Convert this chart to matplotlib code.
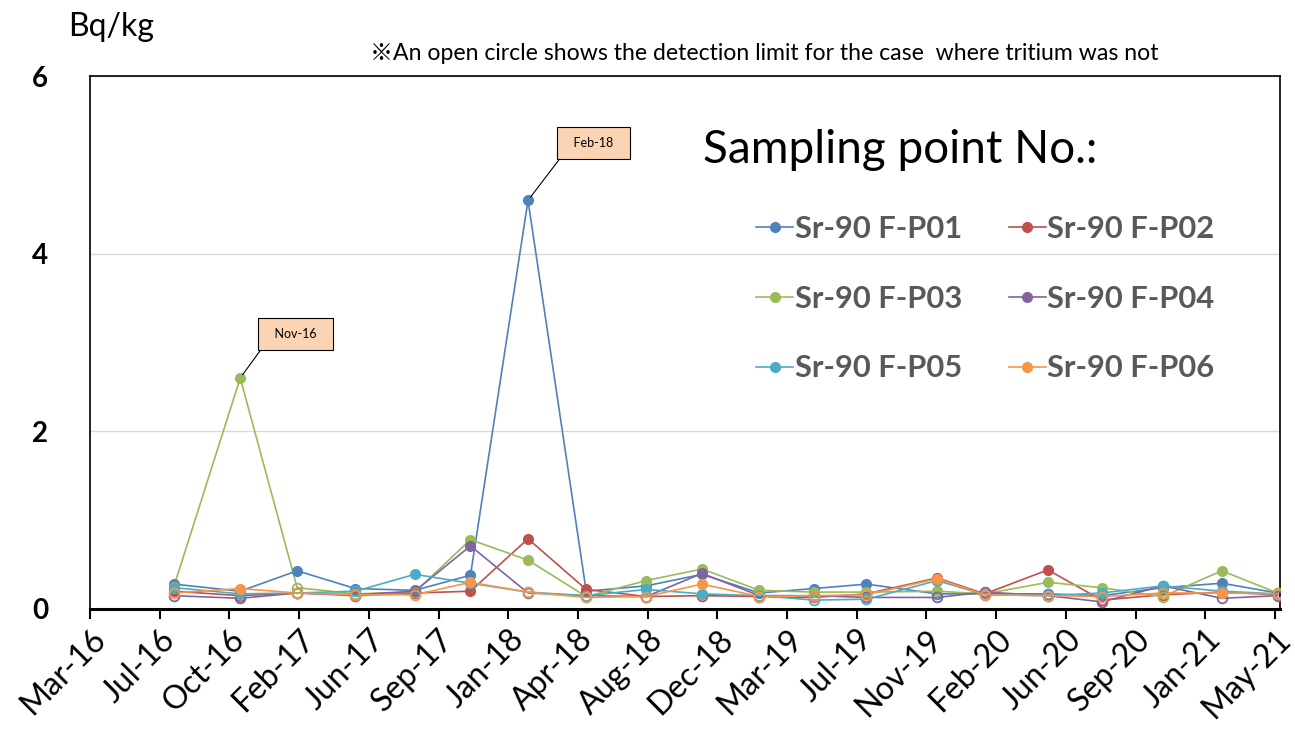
import datetime as dt

import matplotlib
matplotlib.use("Agg")
import matplotlib.dates as mdates
import matplotlib.pyplot as plt
import numpy as np
from matplotlib.lines import Line2D

plt.rcParams["font.family"] = ["Lato", "DejaVu Sans"]

sample_dates = [
    "2016-07-30", "2016-11-12", "2017-02-10", "2017-05-13", "2017-08-15",
    "2017-11-11", "2018-02-10", "2018-05-13", "2018-08-16", "2018-11-12",
    "2019-02-11", "2019-05-08", "2019-07-30", "2019-11-19", "2020-02-02",
    "2020-05-12", "2020-08-05", "2020-11-10", "2021-02-11", "2021-05-10",
]

# Sr-90 concentration [Bq/kg]; det = 0 means the value is the detection limit
p01 = [0.28, 0.20, 0.43, 0.23, 0.21, 0.38, 4.60, 0.20, 0.26, 0.39,
       0.18, 0.23, 0.28, 0.17, 0.17, 0.17, 0.15, 0.24, 0.29, 0.18]
p01_det = [1, 1, 1, 1, 1, 1, 1, 1, 1, 1, 1, 1, 1, 0, 0, 0, 0, 1, 1, 0]
p02 = [0.20, 0.15, 0.18, 0.15, 0.18, 0.20, 0.79, 0.22, 0.14, 0.15,
       0.14, 0.13, 0.17, 0.35, 0.17, 0.44, 0.10, 0.16, 0.19, 0.16]
p02_det = [1, 0, 0, 0, 0, 1, 1, 1, 0, 0, 0, 0, 0, 1, 0, 1, 0, 0, 1, 0]
p03 = [0.25, 2.60, 0.24, 0.17, 0.19, 0.78, 0.55, 0.14, 0.32, 0.45,
       0.21, 0.19, 0.19, 0.20, 0.17, 0.30, 0.24, 0.14, 0.43, 0.18]
p03_det = [1, 1, 0, 0, 0, 1, 1, 0, 1, 1, 1, 1, 1, 1, 0, 1, 1, 0, 1, 0]
p04 = [0.15, 0.12, 0.18, 0.16, 0.20, 0.71, 0.18, 0.15, 0.14, 0.40,
       0.15, 0.15, 0.13, 0.13, 0.19, 0.15, 0.08, 0.26, 0.12, 0.15]
p04_det = [0, 0, 0, 0, 0, 1, 0, 0, 0, 1, 0, 0, 0, 0, 0, 0, 0, 0, 0, 0]
p05 = [0.24, 0.17, 0.18, 0.20, 0.39, 0.29, 0.19, 0.15, 0.22, 0.17,
       0.15, 0.10, 0.11, 0.32, 0.16, 0.15, 0.18, 0.26, 0.20, 0.17]
p05_det = [1, 1, 0, 0, 1, 1, 0, 0, 1, 1, 0, 0, 0, 1, 0, 0, 1, 1, 1, 0]
p06 = [0.18, 0.23, 0.18, 0.16, 0.16, 0.30, 0.19, 0.13, 0.14, 0.28,
       0.14, 0.15, 0.16, 0.34, 0.16, 0.15, 0.14, 0.18, 0.18, 0.17]
p06_det = [0, 1, 0, 0, 0, 1, 0, 0, 0, 1, 0, 0, 0, 1, 0, 0, 0, 0, 1, 0]

labels = ["Sr-90 F-P01", "Sr-90 F-P02", "Sr-90 F-P03",
          "Sr-90 F-P04", "Sr-90 F-P05", "Sr-90 F-P06"]
colors = ["#4F81BD", "#C0504D", "#9BBB59", "#8064A2", "#4BACC6", "#F79646"]
series = [(p01, p01_det), (p02, p02_det), (p03, p03_det),
          (p04, p04_det), (p05, p05_det), (p06, p06_det)]

x = mdates.date2num([dt.datetime.fromisoformat(d) for d in sample_dates])

fig = plt.figure(figsize=(12.95, 7.33), dpi=100)
ax = fig.add_axes([0.0695, 0.1692, 0.9189, 0.7271])

for (vals, det), color in zip(series, colors):
    vals = np.array(vals)
    det = np.array(det, dtype=bool)
    ax.plot(x, vals, color=color, lw=1.2, zorder=2)
    ax.plot(x[det], vals[det], "o", color=color, ms=7, zorder=3)
    ax.plot(x[~det], vals[~det], "o", mfc="none", mec=color, mew=1.3,
            ms=7, zorder=3)

# axis in days, major unit 110.2 days
x0 = mdates.date2num(dt.datetime(2016, 3, 19, 12))
ticks = x0 + np.arange(18) * 110.2
ax.set_xlim(x0, x0 + 1881.4)
ax.set_xticks(ticks)
ax.set_xticklabels([mdates.num2date(t).strftime("%b-%y") for t in ticks],
                   rotation=45, ha="right", rotation_mode="anchor",
                   fontsize=23)
ax.tick_params(axis="x", direction="out", length=7, width=1.5, pad=4)

ax.set_ylim(0, 6)
ax.set_yticks([0, 2, 4, 6])
ax.set_yticklabels(["0", "2", "4", "6"], fontsize=20, fontweight="bold")
ax.tick_params(axis="y", length=0, pad=30)
ax.grid(axis="y", color="#D9D9D9", lw=1)
ax.set_axisbelow(True)

for side in ["top", "right", "left"]:
    ax.spines[side].set_linewidth(1.2)
ax.spines["bottom"].set_linewidth(2.2)

box = dict(boxstyle="square,pad=0.8", fc="#FBD4B4", ec="black", lw=0.8)
ax.annotate("  Nov-16  ", xy=(x[1], p03[1]), xytext=(40, 32),
            textcoords="offset points", ha="center", va="center",
            fontsize=9, bbox=box,
            arrowprops=dict(arrowstyle="-", color="black", lw=0.8,
                            relpos=(0, 0), shrinkA=0, shrinkB=3))
ax.annotate("  Feb-18  ", xy=(x[6], p01[6]), xytext=(47, 41),
            textcoords="offset points", ha="center", va="center",
            fontsize=9, bbox=box,
            arrowprops=dict(arrowstyle="-", color="black", lw=0.8,
                            relpos=(0, 0), shrinkA=0, shrinkB=3))

# two columns filled row by row
order = [0, 2, 4, 1, 3, 5]
handles = [Line2D([], [], color=colors[i], lw=1.2, marker="o", ms=7)
           for i in order]
leg = ax.legend(handles, [labels[i] for i in order], ncol=2,
                loc="upper left", bbox_to_anchor=(0.547, 0.768),
                frameon=False, prop=dict(size=22.2, weight="bold"),
                handlelength=1.2, handletextpad=0.05, columnspacing=1.5,
                labelspacing=1.35, borderpad=0)
for t in leg.get_texts():
    t.set_color("#595959")

fig.text(703 / 1295, 1 - 150 / 733, "Sampling point No.:", fontsize=33,
         va="center", ha="left")
fig.text(68 / 1295, 1 - 27 / 733, "Bq/kg", fontsize=23, va="center")
fig.text(370 / 1295, 1 - 54 / 733,
         "\u203bAn open circle shows the detection limit for the case  where tritium was not",
         fontsize=16.6, va="center", family=["Lato", "Noto Sans CJK JP"])

fig.savefig("out.png", dpi=100)
